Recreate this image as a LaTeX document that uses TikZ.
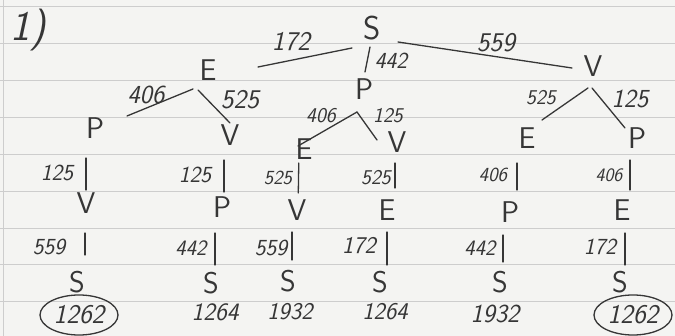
\documentclass[tikz,border=0pt]{standalone}
\usepackage{fontspec}
\usetikzlibrary{shapes.geometric}
\definecolor{ink}{HTML}{363636}
\definecolor{paper}{HTML}{F4F4F2}
\definecolor{rulecol}{HTML}{CDCDCD}
\begin{document}
\begin{tikzpicture}[x=1pt,y=-1pt,
  letter/.style={text=ink,font=\sffamily\fontsize{30}{30}\selectfont,inner sep=0pt},
  bigletter/.style={text=ink,font=\sffamily\fontsize{33}{33}\selectfont,inner sep=0pt},
  num/.style={text=ink,font=\sffamily\itshape\fontsize{#1}{#1}\selectfont,inner sep=0pt},
  num/.default=22,
  edge/.style={draw=ink,line width=1.3pt,line cap=round},
  ring/.style={ellipse,draw=ink,line width=1.3pt,minimum width=78pt,minimum height=40pt,inner sep=0pt},
  ruling/.style={draw=rulecol,line width=1pt}]
\useasboundingbox (0,0) rectangle (675,336);
\fill[paper] (0,0) rectangle (675,336);
\foreach \yy in {7,44,81,118,155,192,229,265,302}
  \draw[ruling] (0,\yy) -- (675,\yy);
\draw[ruling] (3,0) -- (3,336);

% heading
\node[text=ink,font=\sffamily\itshape\fontsize{42}{42}\selectfont,inner sep=0pt] (head) at (28,30) {1)};

% tree letters
\node[bigletter] (S0) at (372,28) {S};
\node[letter] (E1) at (208,70) {E};
\node[letter] (P1) at (364,89) {P};
\node[letter] (V1) at (593,66) {V};

\node[letter] (a2) at (95,128) {P};
\node[letter] (b2) at (230,135) {V};
\node[letter] (c2) at (304,149) {E};
\node[letter] (d2) at (397,142) {V};
\node[letter] (e2) at (527,138) {E};
\node[letter] (f2) at (637,138) {P};

\node[letter] (a4) at (86,203) {V};
\node[letter] (b4) at (222,207) {P};
\node[letter] (c4) at (297,210) {V};
\node[letter] (d4) at (387,210) {E};
\node[letter] (e4) at (510,212) {P};
\node[letter] (f4) at (622,210) {E};

\node[letter] (a6) at (77,282) {S};
\node[letter] (b6) at (211,283) {S};
\node[letter] (c6) at (288,281) {S};
\node[letter] (d6) at (380,282) {S};
\node[letter] (e6) at (500,282) {S};
\node[letter] (f6) at (620,282) {S};

% totals
\node[num=27,ring] (a7) at (79,315) {1262};
\node[num=25] (b7) at (215,312) {1264};
\node[num=24] (c7) at (290,312) {1932};
\node[num=24] (d7) at (385,312) {1264};
\node[num=26] (e7) at (495,314) {1932};
\node[num=27,ring] (f7) at (633,315) {1262};

% edges, upper tree (yshift negative = downwards)
\draw[edge] ([xshift=-20pt,yshift=-20pt]S0.center) -- ([xshift=50pt,yshift=3pt]E1.center);
\draw[edge] ([xshift=26pt,yshift=-14pt]S0.center) -- ([xshift=-21pt,yshift=-2pt]V1.center);
\draw[edge] ([xshift=-2pt,yshift=-19pt]S0.center) -- ([xshift=1pt,yshift=17pt]P1.center);
\draw[edge] ([xshift=-15pt,yshift=-19pt]E1.center) -- ([xshift=32pt,yshift=12pt]a2.center);
\draw[edge] ([xshift=-10pt,yshift=-20pt]E1.center) -- ([xshift=0pt,yshift=12pt]b2.center);
\draw[edge] ([xshift=-7pt,yshift=-23pt]P1.center) -- ([xshift=-6pt,yshift=3pt]c2.center);
\draw[edge] ([xshift=-7pt,yshift=-23pt]P1.center) -- ([xshift=-20pt,yshift=2pt]d2.center);
\draw[edge] ([xshift=-5pt,yshift=-22pt]V1.center) -- ([xshift=15pt,yshift=18pt]e2.center);
\draw[edge] ([xshift=-1pt,yshift=-22pt]V1.center) -- ([xshift=-12pt,yshift=10pt]f2.center);

% vertical edges, level 2 -> 4
\draw[edge,shorten <=30pt,shorten >=13pt] ([xshift=-9pt]a2.center) -- (a4.center);
\draw[edge,shorten <=25pt,shorten >=15pt] ([xshift=-6pt]b2.center) -- ([xshift=2pt]b4.center);
\draw[edge,shorten <=14pt,shorten >=17pt] ([xshift=-5pt]c2.center) -- ([xshift=1pt]c4.center);
\draw[edge,shorten <=21pt,shorten >=22pt] ([xshift=-2pt]d2.center) -- ([xshift=8pt]d4.center);
\draw[edge,shorten <=25pt,shorten >=22pt] ([xshift=-10pt]e2.center) -- ([xshift=7pt]e4.center);
\draw[edge,shorten <=22pt,shorten >=20pt] ([xshift=-7pt]f2.center) -- ([xshift=8pt]f4.center);

% vertical edges, level 4 -> 6
\draw[edge,shorten <=30pt,shorten >=27pt] ([xshift=-1pt]a4.center) -- ([xshift=8pt]a6.center);
\draw[edge,shorten <=26pt,shorten >=18pt] ([xshift=-7pt]b4.center) -- ([xshift=4pt]b6.center);
\draw[edge,shorten <=22pt,shorten >=21pt] ([xshift=-5pt]c4.center) -- ([xshift=4pt]c6.center);
\draw[edge,shorten <=22pt,shorten >=17pt] (d4.center) -- ([xshift=7pt]d6.center);
\draw[edge,shorten <=23pt,shorten >=20pt] ([xshift=-7pt]e4.center) -- ([xshift=3pt]e6.center);
\draw[edge,shorten <=23pt,shorten >=17pt] ([xshift=3pt]f4.center) -- ([xshift=5pt]f6.center);

% edge labels, upper tree
\node[num=27] (l172) at (291,42) {172};
\node[num=23] (l442) at (391,61) {442};
\node[num=27] (l559) at (496,43) {559};
\node[num=26] (lEP) at (146,95) {406};
\node[num=27] (lEV) at (240,100) {525};
\node[num=21] (lPE) at (321,116) {406};
\node[num=21] (lPV) at (388,116) {125};
\node[num=21] (lVE) at (541,98) {525};
\node[num=26] (lVP) at (630,99) {125};

% edge labels, level 3
\node[num=23] (m3a) at (57,173) {125};
\node[num=23] (m3b) at (195,175) {125};
\node[num=20] (m3c) at (278,178) {525};
\node[num=21] (m3d) at (376,178) {525};
\node[num=20] (m3e) at (493,175) {406};
\node[num=19] (m3f) at (609,175) {406};

% edge labels, level 5
\node[num=23] (m5a) at (49,247) {559};
\node[num=22] (m5b) at (191,248) {442};
\node[num=23] (m5c) at (271,248) {559};
\node[num=24] (m5d) at (359,246) {172};
\node[num=22] (m5e) at (480,248) {442};
\node[num=23] (m5f) at (600,247) {172};
\end{tikzpicture}
\end{document}
